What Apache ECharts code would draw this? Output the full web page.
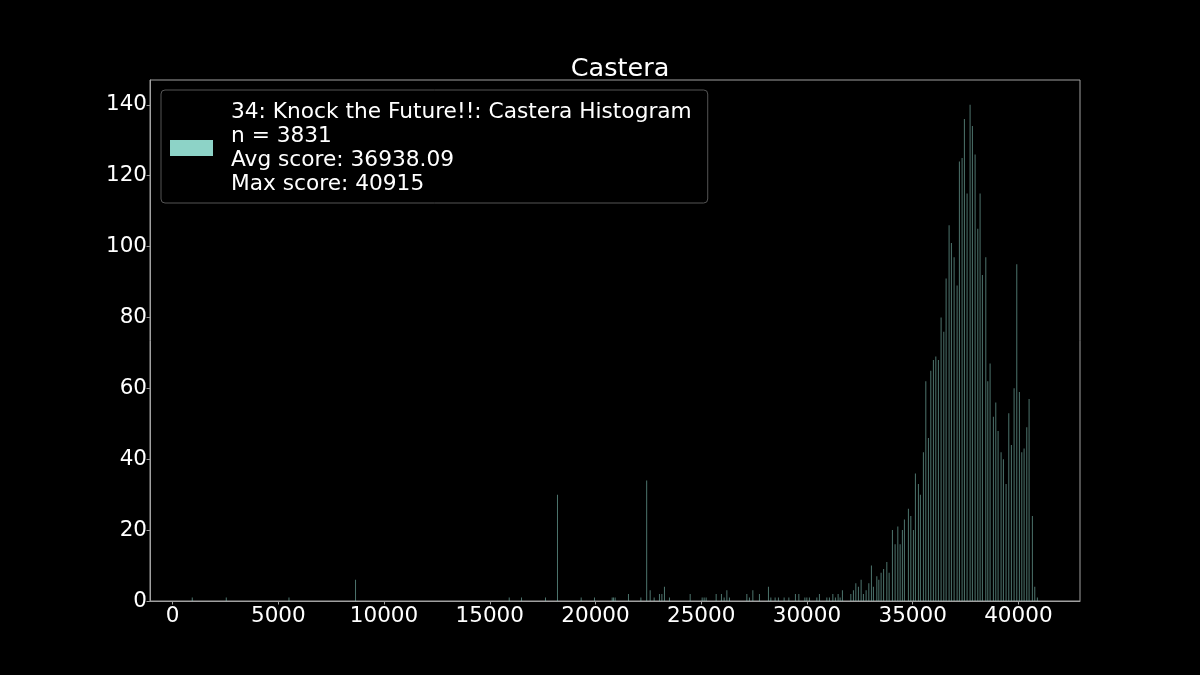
<!DOCTYPE html>
<html>
<head>
<meta charset="utf-8">
<script src="https://cdn.jsdelivr.net/npm/echarts@6/dist/echarts.min.js"></script>
<style>
  html, body { margin: 0; padding: 0; background: #000; }
  #chart { width: 1200px; height: 675px; }
</style>
</head>
<body>
<div id="chart"></div>
<script>
const chartTitle = 'Castera';
const legendLines = ['34: Knock the Future!!: Castera Histogram', 'n = 3831', 'Avg score: 36938.09', 'Max score: 40915'];
const xTicks = [0, 5000, 10000, 15000, 20000, 25000, 30000, 35000, 40000];
const yTicks = [0, 20, 40, 60, 80, 100, 120, 140];

const scores = [
  931, 2539, 5504, 8652, 15920, 16501, 17636, 18203, 19324, 19953,
  20790, 20851, 20931, 21560, 22147, 22421, 22586, 22775, 23026, 23140,
  23262, 23499, 24478, 25045, 25139, 25234, 25707, 25957, 26085, 26213,
  26336, 27158, 27281, 27442, 27754, 28180, 28293, 28496, 28652, 28922,
  29144, 29456, 29617, 29901, 29995, 30118, 30468, 30591, 30941, 31064,
  31225, 31348, 31475, 31570, 31678, 32076, 32199, 32312, 32435, 32563,
  32671, 32799, 32927, 33050, 33144, 33305, 33400, 33508, 33626, 33778,
  33887, 34043, 34170, 34298, 34407, 34515, 34610, 34799, 34913, 35035,
  35130, 35272, 35366, 35508, 35622, 35745, 35858, 35981, 36095, 36217,
  36345, 36473, 36582, 36723, 36832, 36960, 37102, 37210, 37338, 37447,
  37574, 37716, 37825, 37953, 38080, 38189, 38298, 38459, 38553, 38662,
  38818, 38931, 39040, 39182, 39291, 39418, 39546, 39669, 39797, 39924,
  40047, 40161, 40270, 40397, 40506, 40662, 40775, 40898
];
const counts = [
  1, 1, 1, 6, 1, 1, 1, 30, 1, 1,
  1, 1, 1, 2, 1, 34, 3, 1, 2, 2,
  4, 1, 2, 1, 1, 1, 2, 2, 1, 3,
  1, 2, 1, 3, 2, 4, 1, 1, 1, 1,
  1, 2, 2, 1, 1, 1, 1, 2, 1, 1,
  2, 1, 2, 1, 3, 2, 3, 5, 4, 6,
  2, 3, 5, 10, 4, 7, 6, 8, 9, 11,
  8, 20, 16, 21, 16, 20, 23, 26, 24, 20,
  36, 33, 30, 42, 62, 46, 65, 68, 69, 68,
  80, 76, 91, 106, 101, 97, 89, 124, 125, 136,
  115, 140, 134, 126, 105, 115, 92, 97, 62, 67,
  52, 56, 48, 42, 40, 33, 53, 44, 60, 95,
  59, 42, 43, 49, 57, 24, 4, 1
];

const barData = scores.map((s, i) => [s, counts[i]]);
const font = 'DejaVu Sans';

const chart = echarts.init(document.getElementById('chart'), null, { renderer: 'canvas' });
chart.setOption({
  backgroundColor: '#000000',
  animation: false,
  title: {
    text: chartTitle,
    left: 615,
    textAlign: 'center',
    top: 51,
    textStyle: { color: '#ffffff', fontSize: 25.5, fontWeight: 'normal', fontFamily: font }
  },
  grid: {
    left: 150, top: 80, width: 930, height: 521,
    show: true, borderColor: '#a0a0a0', borderWidth: 1, backgroundColor: 'transparent'
  },
  legend: {
    show: true,
    left: 161, top: 90,
    orient: 'vertical',
    backgroundColor: 'rgba(0,0,0,0.8)',
    borderColor: '#555555', borderWidth: 1, borderRadius: 4,
    padding: [10, 16, 7, 9],
    itemWidth: 43, itemHeight: 16,
    icon: 'rect',
    data: [{ name: 'hist', itemStyle: { color: '#8dd3c7', opacity: 1 } }],
    formatter: () => legendLines.join('\n'),
    textStyle: { color: '#ffffff', fontSize: 21.7, lineHeight: 24, fontFamily: font, padding: [0, 0, 0, 13] }
  },
  xAxis: {
    type: 'value',
    min: -1068, max: 42914,
    splitLine: { show: false },
    axisLine: { show: true, onZero: false, lineStyle: { color: '#a0a0a0', width: 1 } },
    axisTick: { show: true, length: 3.5, lineStyle: { color: '#a0a0a0' }, customValues: xTicks },
    axisLabel: { color: '#ffffff', fontSize: 21.5, fontFamily: font, margin: 4, customValues: xTicks,
      formatter: v => String(v) }
  },
  yAxis: {
    type: 'value',
    min: 0, max: 147,
    splitLine: { show: false },
    axisLine: { show: true, onZero: false, lineStyle: { color: '#a0a0a0', width: 1 } },
    axisTick: { show: true, length: 3.5, lineStyle: { color: '#a0a0a0' }, customValues: yTicks },
    axisLabel: { color: '#ffffff', fontSize: 21.5, fontFamily: font, margin: 3, customValues: yTicks,
      formatter: v => String(v) }
  },
  series: [{
    name: 'hist',
    type: 'bar',
    data: barData,
    barWidth: 1,
    itemStyle: { color: '#8dd3c7', opacity: 0.55 },
    emphasis: { disabled: true }
  }]
});
</script>
</body>
</html>
